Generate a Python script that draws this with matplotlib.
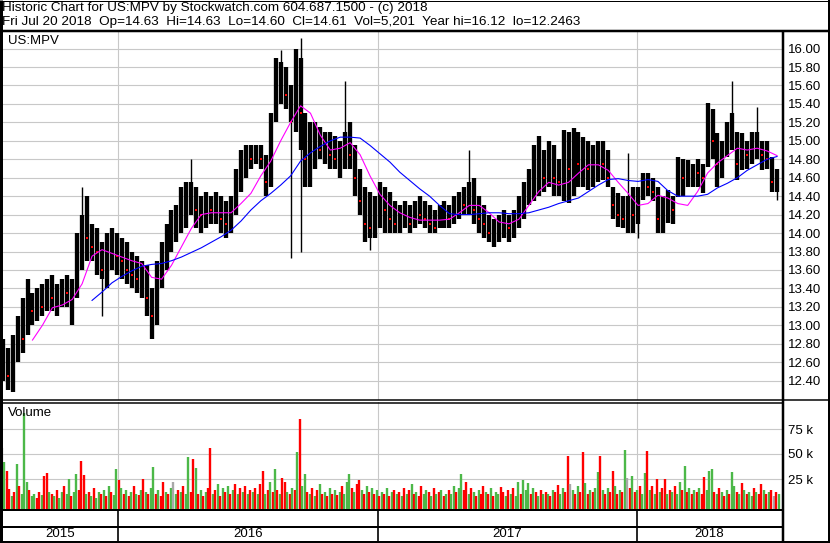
import numpy as np
import pandas as pd
import matplotlib
matplotlib.use('Agg')
import matplotlib.pyplot as plt
import matplotlib.dates as mdates

plt.rcParams['font.family'] = ['Liberation Sans', 'DejaVu Sans']

header1 = 'Historic Chart for US:MPV by Stockwatch.com 604.687.1500 - (c) 2018'
header2 = ('Fri Jul 20 2018  Op=14.63  Hi=14.63  Lo=14.60  Cl=14.61  '
           'Vol=5,201  Year hi=16.12  lo=12.2463')

# weekly bars (mid-week dates, first one 2015-07-22): main trading range
week_high = [
    12.85, 12.75, 12.90, 13.10, 13.30, 13.50, 13.35, 13.40, 13.45, 13.50,
    13.55, 13.45, 13.50, 13.55, 13.50, 14.00, 14.20, 14.40, 14.10, 14.05,
    13.90, 14.00, 14.05, 14.00, 13.95, 13.90, 13.80, 13.75, 13.70, 13.65,
    13.40, 13.70, 13.90, 14.10, 14.25, 14.30, 14.50, 14.55, 14.55, 14.50,
    14.40, 14.45, 14.40, 14.45, 14.40, 14.35, 14.40, 14.70, 14.90, 14.95,
    14.95, 14.95, 14.95, 14.85, 15.30, 15.90, 15.85, 15.80, 15.60, 16.00,
    15.90, 15.30, 15.20, 15.20, 15.15, 15.10, 15.10, 15.05, 15.00, 15.10,
    15.20, 14.95, 14.70, 14.50, 14.45, 14.40, 14.55, 14.50, 14.45, 14.35,
    14.30, 14.35, 14.30, 14.35, 14.40, 14.35, 14.30, 14.25, 14.30, 14.35,
    14.30, 14.40, 14.45, 14.50, 14.55, 14.60, 14.40, 14.30, 14.20, 14.15,
    14.20, 14.25, 14.20, 14.25, 14.40, 14.55, 14.70, 14.95, 15.05, 14.90,
    15.00, 14.95, 14.80, 15.12, 15.10, 15.14, 15.10, 15.04, 15.00, 14.95,
    15.00, 15.00, 14.90, 14.50, 14.43, 14.40, 14.40, 14.50, 14.50, 14.65,
    14.65, 14.60, 14.50, 14.40, 14.47, 14.40, 14.83, 14.80, 14.79, 14.75,
    14.80, 14.75, 15.41, 15.35, 15.08, 15.00, 15.20, 15.30, 15.10, 15.08,
    15.00, 15.10, 15.10, 15.00, 15.00, 14.83, 14.70]
week_low = [
    12.40, 12.30, 12.28, 12.60, 12.70, 12.90, 13.00, 13.05, 13.10, 13.15,
    13.15, 13.10, 13.20, 13.20, 13.00, 13.30, 13.60, 13.70, 13.70, 13.55,
    13.50, 13.40, 13.60, 13.55, 13.50, 13.45, 13.40, 13.35, 13.30, 13.10,
    12.85, 13.00, 13.40, 13.60, 13.80, 13.90, 14.00, 14.05, 14.20, 14.05,
    14.00, 14.05, 14.10, 14.10, 14.00, 13.95, 14.00, 14.20, 14.45, 14.60,
    14.70, 14.75, 14.70, 14.40, 14.50, 15.20, 15.40, 15.35, 15.20, 15.10,
    14.90, 14.50, 14.50, 14.70, 14.80, 14.75, 14.70, 14.70, 14.60, 14.70,
    14.70, 14.40, 14.20, 13.90, 13.95, 13.95, 14.05, 14.00, 14.00, 14.00,
    14.00, 14.05, 14.00, 14.05, 14.10, 14.05, 14.00, 14.00, 14.05, 14.05,
    14.05, 14.10, 14.15, 14.20, 14.20, 14.10, 14.00, 13.95, 13.90, 13.85,
    13.90, 13.95, 13.90, 13.95, 14.05, 14.15, 14.30, 14.35, 14.40, 14.45,
    14.50, 14.40, 14.40, 14.35, 14.33, 14.40, 14.50, 14.50, 14.47, 14.50,
    14.55, 14.58, 14.50, 14.15, 14.07, 14.05, 14.00, 14.00, 14.10, 14.36,
    14.40, 14.35, 14.00, 14.00, 14.11, 14.10, 14.39, 14.40, 14.50, 14.50,
    14.50, 14.43, 14.72, 14.80, 14.50, 14.60, 14.83, 14.90, 14.58, 14.68,
    14.70, 14.75, 14.80, 14.68, 14.70, 14.45, 14.45]
week_close = [
    12.55, 12.45, 12.70, 12.95, 12.85, 13.20, 13.15, 13.30, 13.20, 13.40,
    13.30, 13.35, 13.40, 13.35, 13.45, 13.80, 14.20, 13.95, 13.85, 13.80,
    13.60, 13.80, 13.85, 13.75, 13.70, 13.60, 13.55, 13.50, 13.55, 13.30,
    13.10, 13.55, 13.80, 13.95, 14.10, 14.15, 14.30, 14.40, 14.45, 14.25,
    14.20, 14.30, 14.25, 14.35, 14.15, 14.10, 14.30, 14.55, 14.75, 14.85,
    14.80, 14.85, 14.80, 14.55, 15.20, 15.60, 15.70, 15.50, 15.20, 15.70,
    15.30, 14.80, 14.95, 15.00, 14.90, 14.95, 14.85, 14.80, 14.85, 15.10,
    14.85, 14.60, 14.35, 14.10, 14.05, 14.20, 14.30, 14.25, 14.15, 14.10,
    14.15, 14.20, 14.10, 14.25, 14.20, 14.15, 14.10, 14.05, 14.15, 14.20,
    14.15, 14.25, 14.35, 14.30, 14.45, 14.25, 14.15, 14.10, 14.00, 14.00,
    14.10, 14.10, 14.05, 14.15, 14.25, 14.45, 14.55, 14.70, 14.80, 14.60,
    14.75, 14.60, 14.55, 14.80, 14.70, 14.90, 14.75, 14.80, 14.70, 14.80,
    14.85, 14.75, 14.60, 14.30, 14.20, 14.15, 14.30, 14.20, 14.35, 14.55,
    14.50, 14.45, 14.15, 14.20, 14.30, 14.25, 14.70, 14.60, 14.65, 14.70,
    14.65, 14.60, 15.20, 15.00, 14.75, 14.85, 15.00, 15.30, 14.75, 14.90,
    14.85, 14.95, 15.05, 14.85, 14.80, 14.55, 14.61]

# single-day spikes outside the weekly range
spike_week = [16, 20, 38, 56, 58, 60, 69, 74, 94, 126, 128, 147, 152, 156]
spike_low = [14.00, 13.10, 14.30, 15.50, 13.73, 13.80, 14.90, 13.82, 14.30,
             14.30, 13.95, 15.00, 14.90, 14.36]
spike_high = [14.50, 13.60, 14.80, 15.98, 15.30, 16.12, 15.65, 14.20, 14.90,
              14.87, 14.30, 15.65, 15.37, 14.60]

# moving averages, read every second week
ma_fast = [  # magenta, from week 6
    12.84, 13.00, 13.19, 13.22, 13.28, 13.45, 13.75, 13.82, 13.78, 13.74,
    13.70, 13.67, 13.52, 13.50, 13.65, 13.85, 14.05, 14.20, 14.22, 14.22,
    14.22, 14.32, 14.43, 14.62, 14.78, 15.00, 15.20, 15.38, 15.30, 15.06,
    14.90, 14.92, 14.98, 14.85, 14.62, 14.42, 14.30, 14.22, 14.17, 14.14,
    14.14, 14.14, 14.15, 14.22, 14.30, 14.30, 14.22, 14.12, 14.10, 14.15,
    14.30, 14.45, 14.55, 14.52, 14.55, 14.65, 14.74, 14.74, 14.68, 14.55,
    14.43, 14.30, 14.32, 14.41, 14.38, 14.32, 14.30, 14.45, 14.65, 14.76,
    14.84, 14.92, 14.90, 14.92, 14.89, 14.84]
ma_slow = [  # blue, from week 18
    13.27, 13.36, 13.46, 13.53, 13.59, 13.64, 13.66, 13.67, 13.70, 13.74,
    13.79, 13.84, 13.90, 13.96, 14.03, 14.13, 14.25, 14.35, 14.43, 14.52,
    14.62, 14.78, 14.87, 14.94, 15.00, 15.04, 15.04, 15.03, 14.95, 14.86,
    14.77, 14.66, 14.57, 14.48, 14.40, 14.30, 14.21, 14.20, 14.20, 14.21,
    14.22, 14.22, 14.21, 14.21, 14.22, 14.25, 14.28, 14.32, 14.35, 14.38,
    14.45, 14.52, 14.58, 14.59, 14.57, 14.56, 14.58, 14.56, 14.46, 14.40,
    14.40, 14.40, 14.42, 14.49, 14.54, 14.60, 14.68, 14.74, 14.80, 14.83]

# volume in thousands, two bars a week from 2015-07-21
volume = [
    56, 42, 33, 15, 8, 12, 40, 18, 10, 91, 22, 14, 8, 10, 6, 12, 9, 28, 31, 12,
    10, 8, 14, 6, 12, 18, 10, 25, 8, 12, 30, 14, 43, 29, 10, 12, 8, 16, 6, 12,
    10, 14, 8, 18, 12, 9, 35, 24, 16, 10, 14, 8, 12, 18, 10, 9, 14, 25, 12, 10,
    16, 37, 10, 14, 8, 22, 12, 10, 16, 22, 10, 14, 12, 18, 10, 47, 12, 45, 36, 10,
    14, 8, 12, 16, 56, 10, 14, 20, 8, 16, 12, 18, 10, 14, 20, 10, 16, 12, 18, 10,
    14, 12, 16, 10, 20, 33, 10, 14, 22, 12, 35, 14, 10, 26, 22, 12, 10, 16, 14, 52,
    85, 18, 30, 12, 10, 16, 8, 14, 20, 10, 12, 8, 16, 10, 14, 9, 12, 18, 10, 22,
    30, 16, 12, 20, 24, 14, 10, 18, 12, 16, 10, 14, 8, 12, 10, 16, 8, 12, 14, 10,
    12, 8, 16, 10, 14, 20, 10, 12, 8, 18, 10, 14, 12, 8, 16, 10, 12, 14, 8, 10,
    14, 10, 18, 12, 16, 30, 14, 22, 10, 16, 12, 8, 14, 10, 18, 12, 10, 16, 8, 12,
    10, 17, 12, 8, 14, 10, 16, 8, 22, 10, 24, 14, 21, 10, 16, 12, 8, 14, 10, 12,
    10, 8, 14, 12, 19, 10, 16, 12, 48, 20, 14, 10, 18, 12, 52, 21, 10, 14, 12, 16,
    32, 48, 14, 10, 16, 12, 33, 18, 10, 14, 12, 54, 26, 16, 28, 12, 14, 18, 10, 31,
    53, 14, 18, 10, 25, 12, 16, 25, 10, 14, 12, 18, 10, 22, 14, 38, 12, 16, 10, 14,
    12, 16, 10, 27, 14, 33, 35, 12, 10, 16, 12, 8, 14, 10, 32, 18, 12, 10, 21, 14,
    10, 12, 8, 16, 12, 10, 20, 14, 10, 12, 14, 8, 12, 10]
# r = down day, g = up day, x = unchanged
vol_colour = ('xgrrgrgrgggrggrrgrrg' 'rgrggrggrggrrrgrgrgg'
              'rgrgrggrgrgrgrgrgrgr' 'ggrgrrgrgxgrgrggrrgr'
              'grgrrgrgrgrgrgrgrgrg' 'rgrgrrgrgrgrgrrgrgrg'
              'rggrgrgrgrgrgrgrgrgg' 'grgrrgrgrgrgrgrgrgrg'
              'rgrgrgrgrrggrgrgrgrg' 'rggrggrrgrgrgrrgrgrg'
              'grrgrgrggrgggrgrgrgr' 'grgrrggrrxgrgrrgrgrg'
              'grgrgrrgrgrgxrgrgrgg' 'rgrgrgrrgrgrggrgrgrg'
              'rgrrgggrgrgrgrggrgrg' 'rggrgrrgrgrxrg')

years = ['2015', '2016', '2017', '2018']
year_starts = ['2016-01-01', '2017-01-01', '2018-01-01']
price_ticks = [12.4, 12.6, 12.8, 13.0, 13.2, 13.4, 13.6, 13.8, 14.0,
               14.2, 14.4, 14.6, 14.8, 15.0, 15.2, 15.4, 15.6, 15.8, 16.0]
vol_ticks = [25, 50, 75]

W, H = 830, 543
GRID = '#c8c8c8'
RED, GREEN, GREY = '#ff0000', '#4cb848', '#a8a8a8'
FS = 9.5


def box(x0, y0, x1, y1):
    return [x0 / W, 1 - y1 / H, (x1 - x0) / W, (y1 - y0) / H]


wdates = mdates.date2num(pd.date_range('2015-07-22', periods=len(week_high), freq='7D'))
vdates = mdates.date2num(pd.date_range('2015-07-21', periods=len(volume), freq='84h'))
ystarts = mdates.date2num(pd.to_datetime(year_starts))
xlim = mdates.date2num(pd.to_datetime(['2015-07-21', '2018-07-25']))

fig = plt.figure(figsize=(W / 100, H / 100), dpi=100)

# price panel
ax = fig.add_axes(box(2, 32, 782, 400))
ax.set_xlim(*xlim)
ax.set_ylim(12.19, 16.18)
ax.set_yticks(price_ticks)
ax.set_yticklabels([f'{t:.2f}' for t in price_ticks])
ax.yaxis.tick_right()
ax.set_xticks(ystarts)
ax.tick_params(axis='x', length=0, labelbottom=False)
ax.tick_params(axis='y', length=0, pad=4, labelsize=FS)
ax.grid(True, color=GRID, lw=0.8)
ax.set_axisbelow(True)
for s in ax.spines.values():
    s.set_visible(False)

ax.vlines(wdates, week_low, week_high, color='black', lw=3.1)
ax.vlines(wdates[spike_week], spike_low, spike_high, color='black', lw=1.0)
wc = np.array(week_close)
down = np.r_[False, wc[1:] < wc[:-1]]
ax.plot(wdates[down], wc[down], 's', color='red', ms=1.8, mew=0)
ax.plot(wdates[6::2], ma_fast, color='#ff00ff', lw=0.8)
ax.plot(wdates[18::2], ma_slow, color='#0000ff', lw=0.8)

# volume panel
vax = fig.add_axes(box(2, 402, 782, 509))
vax.set_xlim(*xlim)
vax.set_ylim(-5, 102)
vax.set_yticks(vol_ticks)
vax.set_yticklabels([f'{t} k' for t in vol_ticks])
vax.yaxis.tick_right()
vax.set_xticks(ystarts)
vax.tick_params(axis='x', length=0, labelbottom=False)
vax.tick_params(axis='y', length=0, pad=4, labelsize=FS)
vax.grid(True, color=GRID, lw=0.8)
vax.set_axisbelow(True)
for s in vax.spines.values():
    s.set_visible(False)
cmap = {'r': RED, 'g': GREEN, 'x': GREY}
vax.vlines(vdates, -5, volume, colors=[cmap[c] for c in vol_colour], lw=1.7)

# year band
yax = fig.add_axes(box(2, 509, 782, 542))
yax.set_xlim(*xlim)
yax.set_ylim(0, 1)
yax.axis('off')
yax.vlines(ystarts, 0, 1, color='black', lw=1.2)
edges = np.r_[xlim[0], ystarts, xlim[1]]
for i, lab in enumerate(years):
    yax.text((edges[i] + edges[i + 1]) / 2, 0.24, lab, ha='center', va='center',
             fontsize=FS)

# frame and header drawn in pixel space
ov = fig.add_axes([0, 0, 1, 1])
ov.set_xlim(0, W)
ov.set_ylim(H, 0)
ov.axis('off')
ov.patch.set_alpha(0)


def line(xs, ys, px):
    ov.plot(xs, ys, color='black', lw=px * 0.72, solid_capstyle='butt')


line([1, 1], [0, H], 3)
line([0, W], [0.5, 0.5], 1)
line([828.5, 828.5], [0, H], 2)
line([0, W], [542, 542], 2)
line([0, W], [31, 31], 2.5)
line([782.5, 782.5], [31, H], 2.5)
line([0, W], [400, 400], 1.5)
line([0, 782], [402.5, 402.5], 1.5)
line([0, 782], [509.5, 509.5], 2)
line([0, 782], [527, 527], 2)

ov.text(2, 8.5, header1, ha='left', va='center', fontsize=9.7)
ov.text(2, 22.5, header2, ha='left', va='center', fontsize=9.7)
ov.text(8, 41, 'US:MPV', ha='left', va='center', fontsize=FS)
ov.text(8, 413, 'Volume', ha='left', va='center', fontsize=FS)

fig.savefig('out.png', dpi=100)
